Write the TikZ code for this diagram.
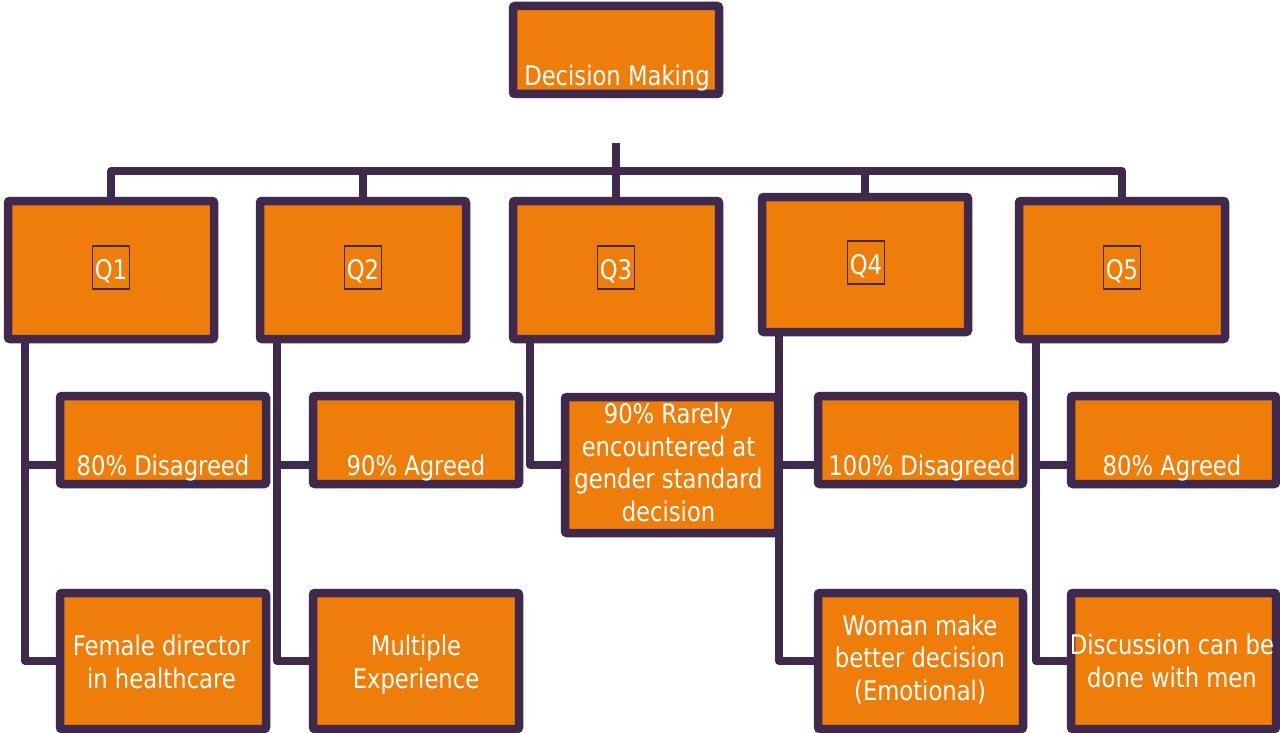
\documentclass[tikz,border=0pt]{standalone}
\usepackage{fontspec}
\setmainfont[FakeStretch=0.84]{DejaVu Sans}
\definecolor{org}{HTML}{EE7D0A}
\definecolor{pur}{HTML}{3F2A4D}
\tikzset{
  box/.style={draw=pur, line width=8.5pt, fill=org, rounded corners=2pt, inner sep=0pt},
  txt/.style={text=white, font=\fontsize{27}{32.5}\selectfont, align=center, anchor=base, inner sep=0pt},
  qlab/.style={draw=pur, line width=1.5pt, text=white, font=\fontsize{27}{32.5}\selectfont, anchor=base, inner xsep=2.5pt, inner ysep=2pt, text height=31pt, text depth=8pt},
  conn/.style={draw=pur, line width=7.5pt, line join=round},
  qbox/.style={box, minimum width=206pt, minimum height=138pt},
  cbox/.style={box, minimum width=206pt, minimum height=88pt},
  dbox/.style={box, minimum width=206pt, minimum height=136pt},
}
\begin{document}
\begin{tikzpicture}[x=1pt,y=-1pt]
\useasboundingbox[fill=white] (0,0) rectangle (1280,733);

% boxes
\node[box, minimum width=206pt, minimum height=88pt] (top) at (616,50) {};
\node[qbox] (Q1) at (111,270) {};
\node[qbox] (Q2) at (363,270) {};
\node[qbox] (Q3) at (616,270) {};
\node[box, minimum width=206pt, minimum height=135pt] (Q4) at (865,264.5) {};
\node[qbox] (Q5) at (1122,270) {};

\node[cbox] (c11) at (163,440) {};
\node[cbox] (c21) at (416,440) {};
\node[box, minimum width=213pt, minimum height=136pt] (c31) at (671.5,465) {};
\node[cbox, minimum width=205pt] (c41) at (920.5,440) {};
\node[cbox, minimum width=205pt] (c51) at (1173.5,440) {};

\node[dbox] (c12) at (163,661) {};
\node[dbox] (c22) at (416,661) {};
\node[dbox, minimum width=205pt] (c42) at (920.5,661) {};
\node[dbox, minimum width=205pt] (c52) at (1173.5,661) {};

% connectors
\coordinate (hub) at (616,143);
\coordinate (bus) at (616,171);
\draw[conn] (Q1.north) -- (Q1.north |- bus) -- (Q5.north |- bus) -- (Q5.north);
\draw[conn] (hub) -- (Q3.north);
\draw[conn] (Q2.north |- bus) -- (Q2.north);
\draw[conn] (Q4.north |- bus) -- (Q4.north);

\foreach \q/\a/\b in {Q1/c11/c12, Q2/c21/c22, Q4/c41/c42, Q5/c51/c52}{
  \coordinate (\q v) at ([xshift=21pt]\q.south west);
  \coordinate (\a p) at ([yshift=-25pt]\a.west);
  \draw[conn] (\q v) |- (\b.west);
  \draw[conn] (\q v |- \a p) -- (\a p);
}
\coordinate (Q3v) at ([xshift=21pt]Q3.south west);
\draw[conn] (Q3v) |- (c31.west);

% texts
\node[txt] (t0) at (617,86) {Decision Making};
\node[qlab] (l1) at (111,279) {Q1};
\node[qlab] (l2) at (363,279) {Q2};
\node[qlab] (l3) at (616,279) {Q3};
\node[qlab] (l4) at (866,274) {Q4};
\node[qlab] (l5) at (1122,279) {Q5};

\node[txt] (t11) at (163,475) {80\% Disagreed};
\node[txt] (t21) at (416,475) {90\% Agreed};
\node[txt] (t31) at (668.5,521) {90\% Rarely\\encountered at\\gender standard\\decision};
\node[txt] (t41) at (922,475) {100\% Disagreed};
\node[txt] (t51) at (1172,475) {80\% Agreed};

\node[txt] (t12) at (161.5,688) {Female director\\in healthcare};
\node[txt] (t22) at (416,688) {Multiple\\Experience};
\node[txt, font=\fontsize{27}{32.5}\selectfont] (t42) at (920,700) {Woman make\\better decision\\(Emotional)};
\node[txt] (t52) at (1172,687) {Discussion can be\\done with men};
\end{tikzpicture}
\end{document}
